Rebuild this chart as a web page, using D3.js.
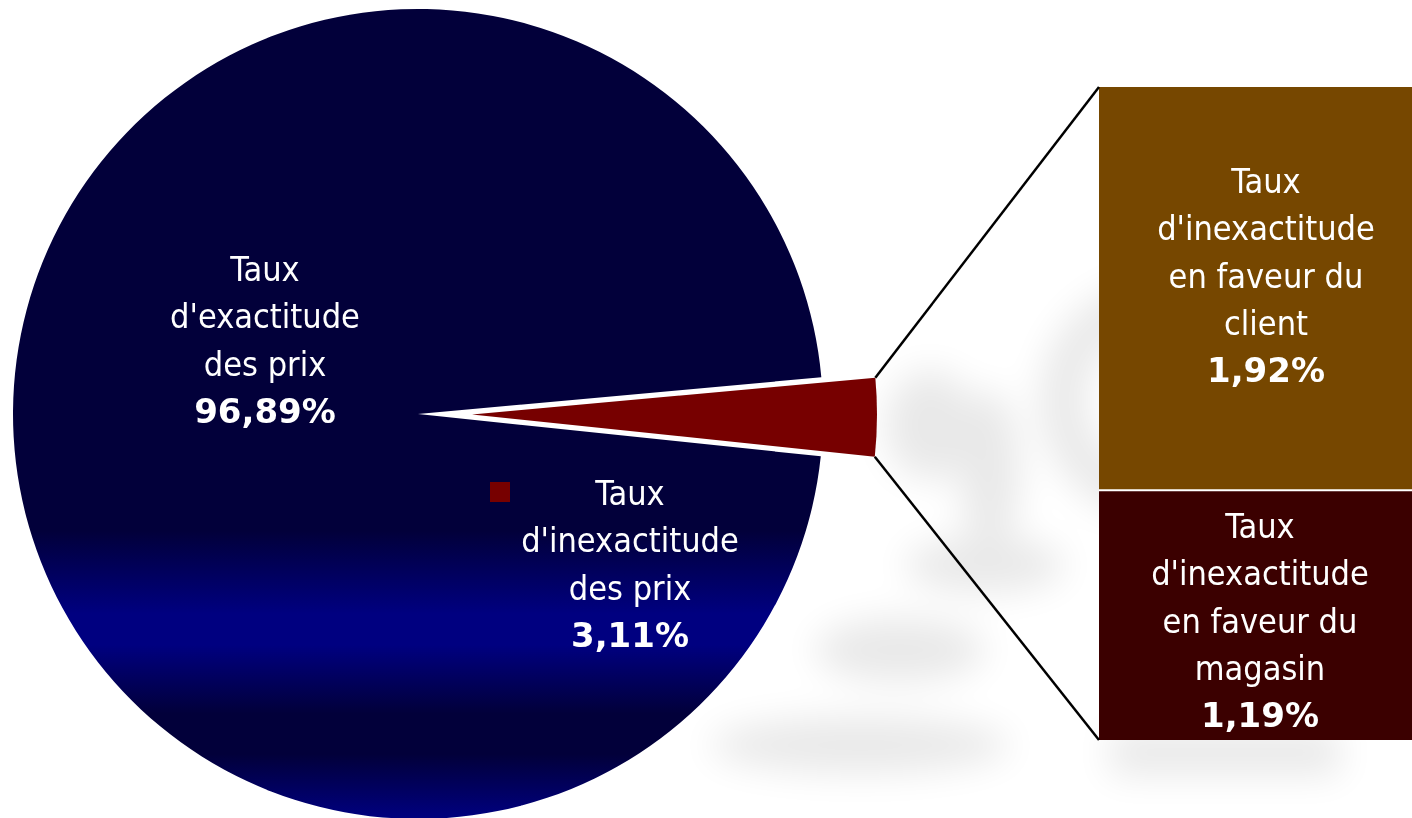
<!DOCTYPE html>
<html>
<head>
<meta charset="utf-8">
<script src="https://cdn.jsdelivr.net/npm/d3@7"></script>
<style>
  html, body { margin: 0; padding: 0; background: #ffffff; overflow: hidden; }
  svg { display: block; }
  text { font-family: "DejaVu Sans Condensed", "DejaVu Sans", sans-serif; font-stretch: condensed; }
  tspan.val { font-family: "DejaVu Sans", sans-serif; font-stretch: normal; font-weight: bold; }
</style>
</head>
<body>
<svg id="chart" width="1412" height="818"></svg>
<script>
// ---------- data ----------
const pieCategories = ["Taux d'exactitude des prix", "Taux d'inexactitude des prix"];
const pieValues = [96.89, 3.11];
const pieLabelLines = [["Taux", "d'exactitude", "des prix"], ["Taux", "d'inexactitude", "des prix"]];
const barCategories = ["Taux d'inexactitude en faveur du client", "Taux d'inexactitude en faveur du magasin"];
const barValues = [1.92, 1.19];
const barLabelLines = [["Taux", "d'inexactitude", "en faveur du", "client"], ["Taux", "d'inexactitude", "en faveur du", "magasin"]];

// ---------- styles ----------
const pieColors = ["url(#mainGrad)", "#770000"];
const barColors = ["#764700", "#3b0000"];
const fontSize = 34;
const lineH = 47.3;

const svg = d3.select("#chart");
const defs = svg.append("defs");

const cx = 418, cy = 414, R = 405;
const explode = 54;

// gradient for main slice (local coords of the pie group)
const grad = defs.append("linearGradient").attr("id", "mainGrad")
  .attr("gradientUnits", "userSpaceOnUse")
  .attr("x1", 0).attr("x2", 0).attr("y1", -R).attr("y2", R);
[[0, "#02003a"], [0.644, "#02003a"], [0.747, "#000080"], [0.785, "#000080"],
 [0.87, "#02003a"], [0.92, "#02003a"], [1, "#000080"]].forEach(s =>
  grad.append("stop").attr("offset", s[0]).attr("stop-color", s[1]));

// soft background shadows
defs.append("filter").attr("id", "blur").attr("x", "-50%").attr("y", "-50%").attr("width", "200%").attr("height", "200%")
  .append("feGaussianBlur").attr("stdDeviation", 18);
const sh = svg.append("g").attr("filter", "url(#blur)").attr("fill", "#000").attr("opacity", 0.09);
sh.append("path").attr("d", d3.arc()({innerRadius: 75, outerRadius: 120, startAngle: Math.PI * 1.0, endAngle: Math.PI * 2.0}))
  .attr("transform", "translate(1160,400)");
sh.append("ellipse").attr("cx", 930).attr("cy", 425).attr("rx", 45).attr("ry", 55);
sh.append("ellipse").attr("cx", 990).attr("cy", 470).attr("rx", 30).attr("ry", 80);
sh.append("ellipse").attr("cx", 985).attr("cy", 565).attr("rx", 80).attr("ry", 28);
sh.append("ellipse").attr("cx", 900).attr("cy", 650).attr("rx", 85).attr("ry", 32);
sh.append("ellipse").attr("cx", 860).attr("cy", 745).attr("rx", 150).attr("ry", 28);
sh.append("rect").attr("x", 1110).attr("y", 730).attr("width", 230).attr("height", 45);

// ---------- pie ----------
const total = d3.sum(pieValues);
const redSpan = pieValues[1] / total * 2 * Math.PI;
const redMid = 90.4 * Math.PI / 180;
const pie = d3.pie().sort(null)
  .startAngle(redMid - redSpan / 2 - (pieValues[0] / total) * 2 * Math.PI)
  .endAngle(redMid + redSpan / 2);
const arcs = pie(pieValues);
const arc = d3.arc().innerRadius(0).outerRadius(R);

const pg = svg.append("g").attr("transform", `translate(${cx},${cy})`);
pg.selectAll("path.slice").data(arcs).join("path")
  .attr("class", "slice")
  .attr("d", arc)
  .attr("fill", (d, i) => pieColors[i])
  .attr("transform", (d, i) => {
    if (i !== 1) return null;
    const m = (d.startAngle + d.endAngle) / 2;
    return `translate(${explode * Math.sin(m)},${-explode * Math.cos(m)})`;
  });

// red slice outer corners (screen coords)
const red = arcs[1];
const redM = (red.startAngle + red.endAngle) / 2;
const redOff = [explode * Math.sin(redM), -explode * Math.cos(redM)];
const corner = a => [cx + redOff[0] + R * Math.sin(a), cy + redOff[1] - R * Math.cos(a)];
const cTop = corner(red.startAngle), cBot = corner(red.endAngle);

// ---------- bar of pie ----------
const barX = 1099, barW = 334;
const y = d3.scaleLinear().domain([0, d3.sum(barValues)]).range([87, 740]);
let acc = 0;
const stack = barValues.map(v => { const s = { y0: acc, y1: acc + v, v }; acc += v; return s; });
const bg = svg.append("g");
bg.selectAll("rect").data(stack).join("rect")
  .attr("x", barX).attr("width", barW)
  .attr("y", d => y(d.y0)).attr("height", d => y(d.y1) - y(d.y0))
  .attr("fill", (d, i) => barColors[i]);
bg.append("line").attr("x1", barX).attr("x2", barX + barW)
  .attr("y1", y(stack[0].y1)).attr("y2", y(stack[0].y1))
  .attr("stroke", "#fff").attr("stroke-width", 2);

// connector lines
svg.append("line").attr("x1", cTop[0]).attr("y1", cTop[1]).attr("x2", barX).attr("y2", y(0))
  .attr("stroke", "#000").attr("stroke-width", 2.5);
svg.append("line").attr("x1", cBot[0]).attr("y1", cBot[1]).attr("x2", barX).attr("y2", y(d3.sum(barValues)))
  .attr("stroke", "#000").attr("stroke-width", 2.5);

// ---------- labels ----------
const loc = d3.formatLocale({ decimal: ",", thousands: " ", grouping: [3], currency: ["", " €"] });
const pct = v => loc.format(".2f")(v) + "%";

function label(g, x, firstBaseline, lines, value) {
  const t = g.append("text").attr("text-anchor", "middle").attr("fill", "#fff").attr("font-size", fontSize);
  lines.forEach((l, i) => t.append("tspan").attr("x", x).attr("y", firstBaseline + i * lineH).text(l));
  t.append("tspan").attr("class", "val").attr("x", x).attr("y", firstBaseline + lines.length * lineH)
    .text(pct(value));
}
const lg = svg.append("g");
label(lg, cx - 153, 281, pieLabelLines[0], pieValues[0]);
label(lg, cx + 212, 505, pieLabelLines[1], pieValues[1]);
lg.append("rect").attr("x", cx + 72).attr("y", 482).attr("width", 20).attr("height", 20).attr("fill", pieColors[1]);

label(lg, barX + barW / 2, 193, barLabelLines[0], barValues[0]);
label(lg, barX + barW / 2 - 6, 538, barLabelLines[1], barValues[1]);
</script>
</body>
</html>
